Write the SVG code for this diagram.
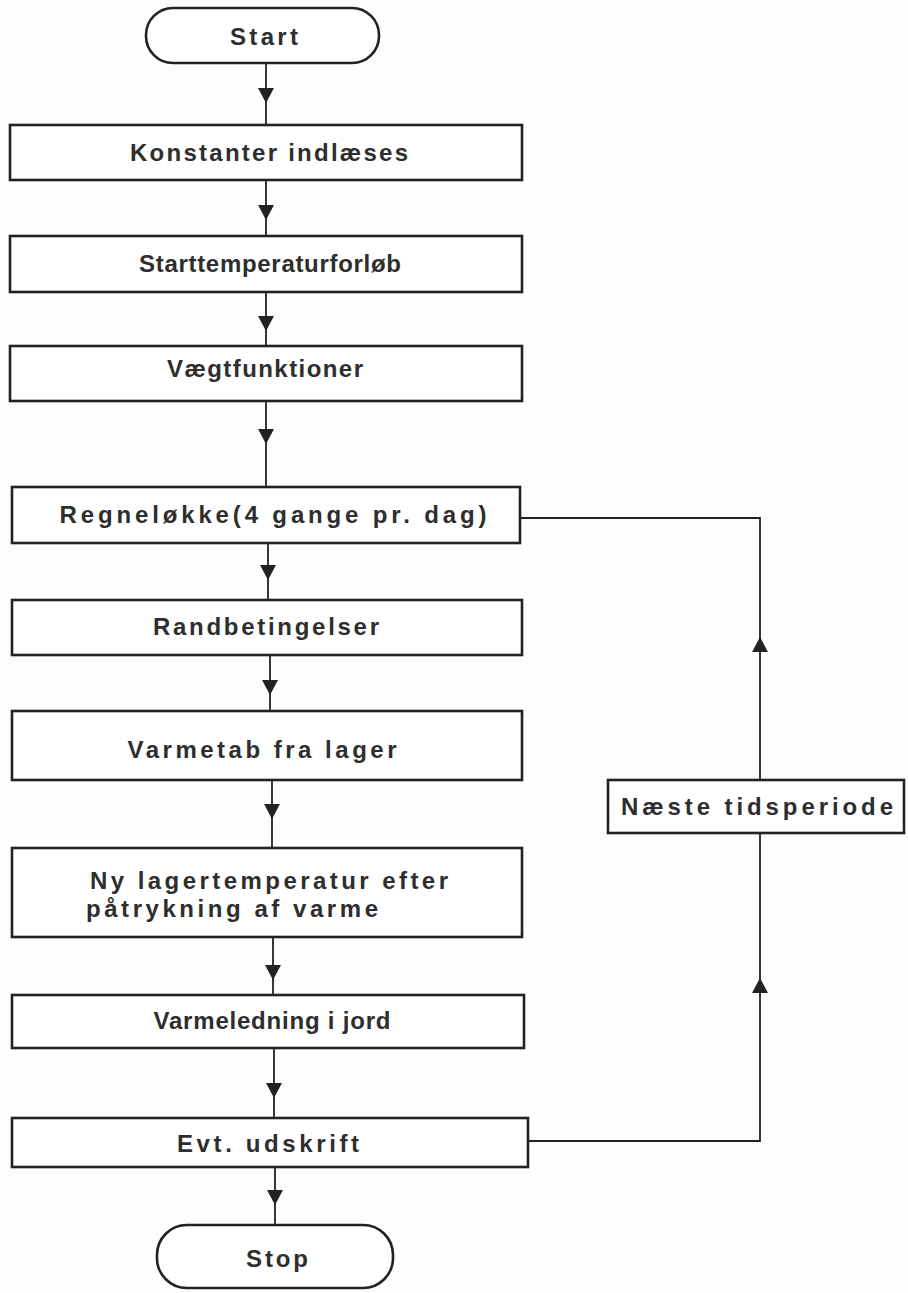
<svg xmlns="http://www.w3.org/2000/svg" width="908" height="1293" viewBox="0 0 908 1293">
<defs>
<style>
.box{fill:#fff;stroke:#222;stroke-width:2.6}
.t{font-family:"Liberation Sans",Arial,sans-serif;font-weight:bold;font-size:24px;fill:#2e2e2e;text-anchor:middle}
.l{text-anchor:start}
.c{fill:none;stroke:#222;stroke-width:1.8}
.ah{fill:#222}
</style>
</defs>
<rect width="908" height="1293" fill="#fdfdfd"/>
<g id="connectors">
<line class="c" x1="266" y1="63" x2="266" y2="125"/>
<polygon class="ah" points="258,88 274,88 266,103"/>
<line class="c" x1="266" y1="180" x2="266" y2="236"/>
<polygon class="ah" points="258,205 274,205 266,220"/>
<line class="c" x1="266" y1="292" x2="266" y2="346"/>
<polygon class="ah" points="258,316 274,316 266,331"/>
<line class="c" x1="266" y1="401" x2="266" y2="487"/>
<polygon class="ah" points="258,429 274,429 266,444"/>
<line class="c" x1="268" y1="543" x2="268" y2="600"/>
<polygon class="ah" points="260,565 276,565 268,580"/>
<line class="c" x1="270" y1="655" x2="270" y2="711"/>
<polygon class="ah" points="262,680 278,680 270,695"/>
<line class="c" x1="272" y1="780" x2="272" y2="848"/>
<polygon class="ah" points="264,804 280,804 272,819"/>
<line class="c" x1="273" y1="937" x2="273" y2="995"/>
<polygon class="ah" points="265,965 281,965 273,980"/>
<line class="c" x1="274" y1="1048" x2="274" y2="1118"/>
<polygon class="ah" points="266,1083 282,1083 274,1098"/>
<line class="c" x1="275" y1="1167" x2="275" y2="1225"/>
<polygon class="ah" points="267,1190 283,1190 275,1205"/>
<polyline class="c" points="520,518 760,518 760,780"/>
<polygon class="ah" points="752,652 768,652 760,637"/>
<polyline class="c" points="528,1141 760,1141 760,833"/>
<polygon class="ah" points="752,993 768,993 760,978"/>
</g>
<g id="start">
<rect class="box" x="146" y="8" width="233" height="55" rx="27"/>
<text class="t" x="264" y="45" textLength="68" lengthAdjust="spacing">Start</text>
</g>
<g id="konstanter">
<rect class="box" x="10" y="125" width="512" height="55"/>
<text class="t" x="269" y="161" textLength="278" lengthAdjust="spacing">Konstanter indlæses</text>
</g>
<g id="starttemp">
<rect class="box" x="10" y="236" width="512" height="56"/>
<text class="t" x="270" y="272" textLength="262" lengthAdjust="spacing">Starttemperaturforløb</text>
</g>
<g id="vaegt">
<rect class="box" x="10" y="346" width="512" height="55"/>
<text class="t" x="265" y="377" textLength="196" lengthAdjust="spacing">Vægtfunktioner</text>
</g>
<g id="regneloekke">
<rect class="box" x="12" y="487" width="508" height="56"/>
<text class="t" x="273" y="523" textLength="427" lengthAdjust="spacing">Regneløkke(4 gange pr. dag)</text>
</g>
<g id="rand">
<rect class="box" x="12" y="600" width="510" height="55"/>
<text class="t" x="266" y="635" textLength="226" lengthAdjust="spacing">Randbetingelser</text>
</g>
<g id="varmetab">
<rect class="box" x="12" y="711" width="510" height="69"/>
<text class="t" x="262" y="758" textLength="269" lengthAdjust="spacing">Varmetab fra lager</text>
</g>
<g id="nylager">
<rect class="box" x="12" y="848" width="510" height="89"/>
<text class="t l" x="90" y="889" textLength="358" lengthAdjust="spacing">Ny lagertemperatur efter</text>
<text class="t l" x="86" y="917" textLength="292" lengthAdjust="spacing">påtrykning af varme</text>
</g>
<g id="varmeledning">
<rect class="box" x="12" y="995" width="512" height="53"/>
<text class="t" x="272" y="1029" textLength="237" lengthAdjust="spacing">Varmeledning i jord</text>
</g>
<g id="evt">
<rect class="box" x="12" y="1118" width="516" height="49"/>
<text class="t" x="268" y="1152" textLength="182" lengthAdjust="spacing">Evt. udskrift</text>
</g>
<g id="stop">
<rect class="box" x="157" y="1225" width="236" height="63" rx="30"/>
<text class="t" x="277" y="1267" textLength="62" lengthAdjust="spacing">Stop</text>
</g>
<g id="naeste">
<rect class="box" x="608" y="780" width="296" height="53"/>
<text class="t" x="757" y="815" textLength="272" lengthAdjust="spacing">Næste tidsperiode</text>
</g>
</svg>
